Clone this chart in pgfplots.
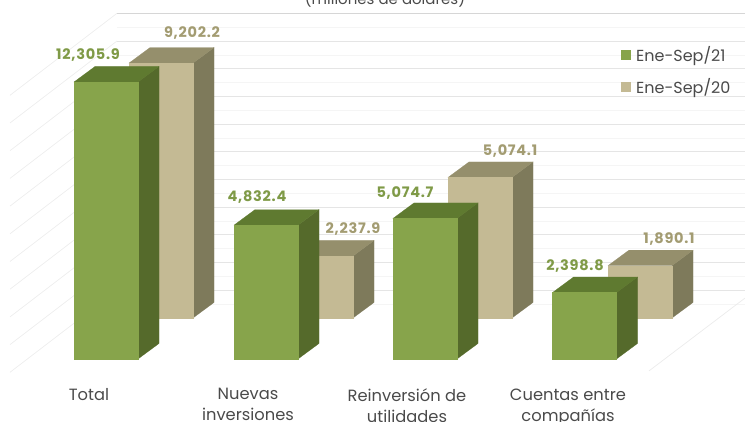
\documentclass[border=0pt]{standalone}
\usepackage{fontspec}
\setmainfont{Poppins}
\usepackage{pgfplots}
\pgfplotsset{compat=1.18}
\definecolor{gfront}{HTML}{87A44B}
\definecolor{gside}{HTML}{556A2B}
\definecolor{gtop}{HTML}{5F7A30}
\definecolor{bfront}{HTML}{C4BA94}
\definecolor{bside}{HTML}{7E7A5B}
\definecolor{btop}{HTML}{958F6C}
\definecolor{gtext}{HTML}{7F9A47}
\definecolor{btext}{HTML}{A39C72}
\definecolor{dtext}{HTML}{4A4A4A}
% x: left edge, b: base, h: value shown (scale stops at 10000), colours
\newcommand\cube[6]{%
  \pgfmathsetmacro\xa{#1}\pgfmathsetmacro\xb{#1+64}\pgfmathsetmacro\xc{#1+85}\pgfmathsetmacro\xd{#1+21}%
  \pgfmathsetmacro\ya{#2}\pgfmathsetmacro\yb{#2+#3}\pgfmathsetmacro\yc{#2+#3+560}\pgfmathsetmacro\yd{#2+560}%
  \addplot[forget plot,fill=#5,draw=#5,line width=.2pt] coordinates {(\xb,\ya)(\xc,\yd)(\xc,\yc)(\xb,\yb)} --cycle;
  \addplot[forget plot,fill=#6,draw=#6,line width=.2pt] coordinates {(\xa,\yb)(\xb,\yb)(\xc,\yc)(\xd,\yc)} --cycle;
  \addplot[forget plot,fill=#4,draw=#4,line width=.2pt] coordinates {(\xa,\ya)(\xb,\ya)(\xb,\yb)(\xa,\yb)} --cycle;
}
\begin{document}
\begin{tikzpicture}
\useasboundingbox (0,0) rectangle (745pt,422pt);
\clip (0,0) rectangle (745pt,422pt);
\begin{axis}[
  at={(0,0)},anchor=south west,scale only axis,
  width=745pt,height=422pt,
  xmin=0,xmax=745,ymin=-2274,ymax=12960,
  axis line style={draw=none},major tick length=0pt,
  ytick=\empty,
  xtick={89,248,407,568},
  xticklabels={Total,{Nuevas\\inversiones},{Reinversión de\\utilidades},{Cuentas entre\\compañías}},
  xticklabel style={align=center,anchor=north,yshift=37pt,font=\fontsize{16.3}{21}\selectfont,text=dtext},
  clip=false,
  legend style={at={(axis cs:621,11350)},anchor=north west,draw=none,fill=none,
    font=\fontsize{16}{18}\selectfont,text=dtext,row sep=11pt,inner sep=0pt,
    /tikz/every even column/.append style={column sep=0pt},
    /tikz/every odd column/.append style={column sep=3pt}},
  legend cell align=left,
  legend image code/.code={\fill[#1,draw=none] (0pt,-5pt) rectangle (10pt,5pt);},
  point meta=explicit symbolic,
]
\addlegendimage{fill=gfront}
\addlegendimage{fill=bfront}
\addlegendentry{Ene-Sep/21}
\addlegendentry{Ene-Sep/20}
% back wall lines
\addplot[forget plot,draw=black!4,line width=.6pt,no marks] coordinates {(117,1980)(745,1980)};
\addplot[forget plot,draw=black!4,line width=.6pt,no marks] coordinates {(117,2980)(745,2980)};
\addplot[forget plot,draw=black!4,line width=.6pt,no marks] coordinates {(117,3980)(745,3980)};
\addplot[forget plot,draw=black!4,line width=.6pt,no marks] coordinates {(117,4980)(745,4980)};
\addplot[forget plot,draw=black!4,line width=.6pt,no marks] coordinates {(117,5980)(745,5980)};
\addplot[forget plot,draw=black!4,line width=.6pt,no marks] coordinates {(117,6980)(745,6980)};
\addplot[forget plot,draw=black!4,line width=.6pt,no marks] coordinates {(117,7980)(745,7980)};
\addplot[forget plot,draw=black!4,line width=.6pt,no marks] coordinates {(117,8980)(745,8980)};
\addplot[forget plot,draw=black!4,line width=.6pt,no marks] coordinates {(117,9980)(745,9980)};
\addplot[forget plot,draw=black!4,line width=.6pt,no marks] coordinates {(117,10980)(745,10980)};
\addplot[forget plot,draw=black!4,line width=.6pt,no marks] coordinates {(117,11980)(745,11980)};
\addplot[forget plot,draw=black!10,line width=.8pt,no marks] coordinates {(117,2480)(745,2480)};
\addplot[forget plot,draw=black!10,line width=.8pt,no marks] coordinates {(117,3480)(745,3480)};
\addplot[forget plot,draw=black!10,line width=.8pt,no marks] coordinates {(117,4480)(745,4480)};
\addplot[forget plot,draw=black!10,line width=.8pt,no marks] coordinates {(117,5480)(745,5480)};
\addplot[forget plot,draw=black!10,line width=.8pt,no marks] coordinates {(117,6480)(745,6480)};
\addplot[forget plot,draw=black!10,line width=.8pt,no marks] coordinates {(117,7480)(745,7480)};
\addplot[forget plot,draw=black!10,line width=.8pt,no marks] coordinates {(117,8480)(745,8480)};
\addplot[forget plot,draw=black!10,line width=.8pt,no marks] coordinates {(117,9480)(745,9480)};
\addplot[forget plot,draw=black!10,line width=.8pt,no marks] coordinates {(117,10480)(745,10480)};
\addplot[forget plot,draw=black!10,line width=.8pt,no marks] coordinates {(117,11480)(745,11480)};
\addplot[forget plot,draw=black!16,line width=.8pt,no marks] coordinates {(117,12480)(745,12480)};
% left wall lines
\addplot[forget plot,draw=black!7,line width=.7pt,no marks] coordinates {(10,-480)(117,2480)};
\addplot[forget plot,draw=black!7,line width=.7pt,no marks] coordinates {(10,520)(117,3480)};
\addplot[forget plot,draw=black!7,line width=.7pt,no marks] coordinates {(10,1520)(117,4480)};
\addplot[forget plot,draw=black!7,line width=.7pt,no marks] coordinates {(10,2520)(117,5480)};
\addplot[forget plot,draw=black!7,line width=.7pt,no marks] coordinates {(10,3520)(117,6480)};
\addplot[forget plot,draw=black!7,line width=.7pt,no marks] coordinates {(10,4520)(117,7480)};
\addplot[forget plot,draw=black!7,line width=.7pt,no marks] coordinates {(10,5520)(117,8480)};
\addplot[forget plot,draw=black!7,line width=.7pt,no marks] coordinates {(10,6520)(117,9480)};
\addplot[forget plot,draw=black!7,line width=.7pt,no marks] coordinates {(10,7520)(117,10480)};
\addplot[forget plot,draw=black!7,line width=.7pt,no marks] coordinates {(10,8520)(117,11480)};
\addplot[forget plot,draw=black!7,line width=.7pt,no marks] coordinates {(10,9520)(117,12480)};
% floor edge at right
\addplot[forget plot,draw=black!8,line width=.7pt,no marks] coordinates {(649,-430)(745,2200)};
% Ene-Sep/20 (behind)
\cube{129}{1480}{9202.2}{bfront}{bside}{btop}
\cube{289}{1480}{2237.9}{bfront}{bside}{btop}
\cube{448}{1480}{5074.1}{bfront}{bside}{btop}
\cube{608}{1480}{1890.1}{bfront}{bside}{btop}
% Ene-Sep/21 (front); the Total bar (12,305.9) stops at the scale's 10,000
\cube{74}{0}{10000}{gfront}{gside}{gtop}
\cube{234}{0}{4832.4}{gfront}{gside}{gtop}
\cube{393}{0}{5074.7}{gfront}{gside}{gtop}
\cube{552.5}{0}{2398.8}{gfront}{gside}{gtop}
% value labels
\addplot[forget plot,draw=none,no marks,nodes near coords={\pgfplotspointmeta},nodes near coords style={anchor=center,text=gtext,font=\fontsize{14.5}{16}\selectfont\bfseries\addfontfeature{LetterSpace=5},inner sep=0pt}]
  coordinates {(88,10975)[12,305.9] (257,5848)[4,832.4] (405,5993)[5,074.7] (575,3357)[2,398.8]};
\addplot[forget plot,draw=none,no marks,nodes near coords={\pgfplotspointmeta},nodes near coords style={anchor=center,text=btext,font=\fontsize{14.5}{16}\selectfont\bfseries\addfontfeature{LetterSpace=5},inner sep=0pt}]
  coordinates {(192,11780)[9,202.2] (353,4693)[2,237.9] (510,7520)[5,074.1] (669,4332)[1,890.1]};
\node[text=dtext,font=\fontsize{15}{17}\selectfont,inner sep=0pt] at (axis cs:385,13000) {(millones de dólares)};
\end{axis}
\end{tikzpicture}
\end{document}
